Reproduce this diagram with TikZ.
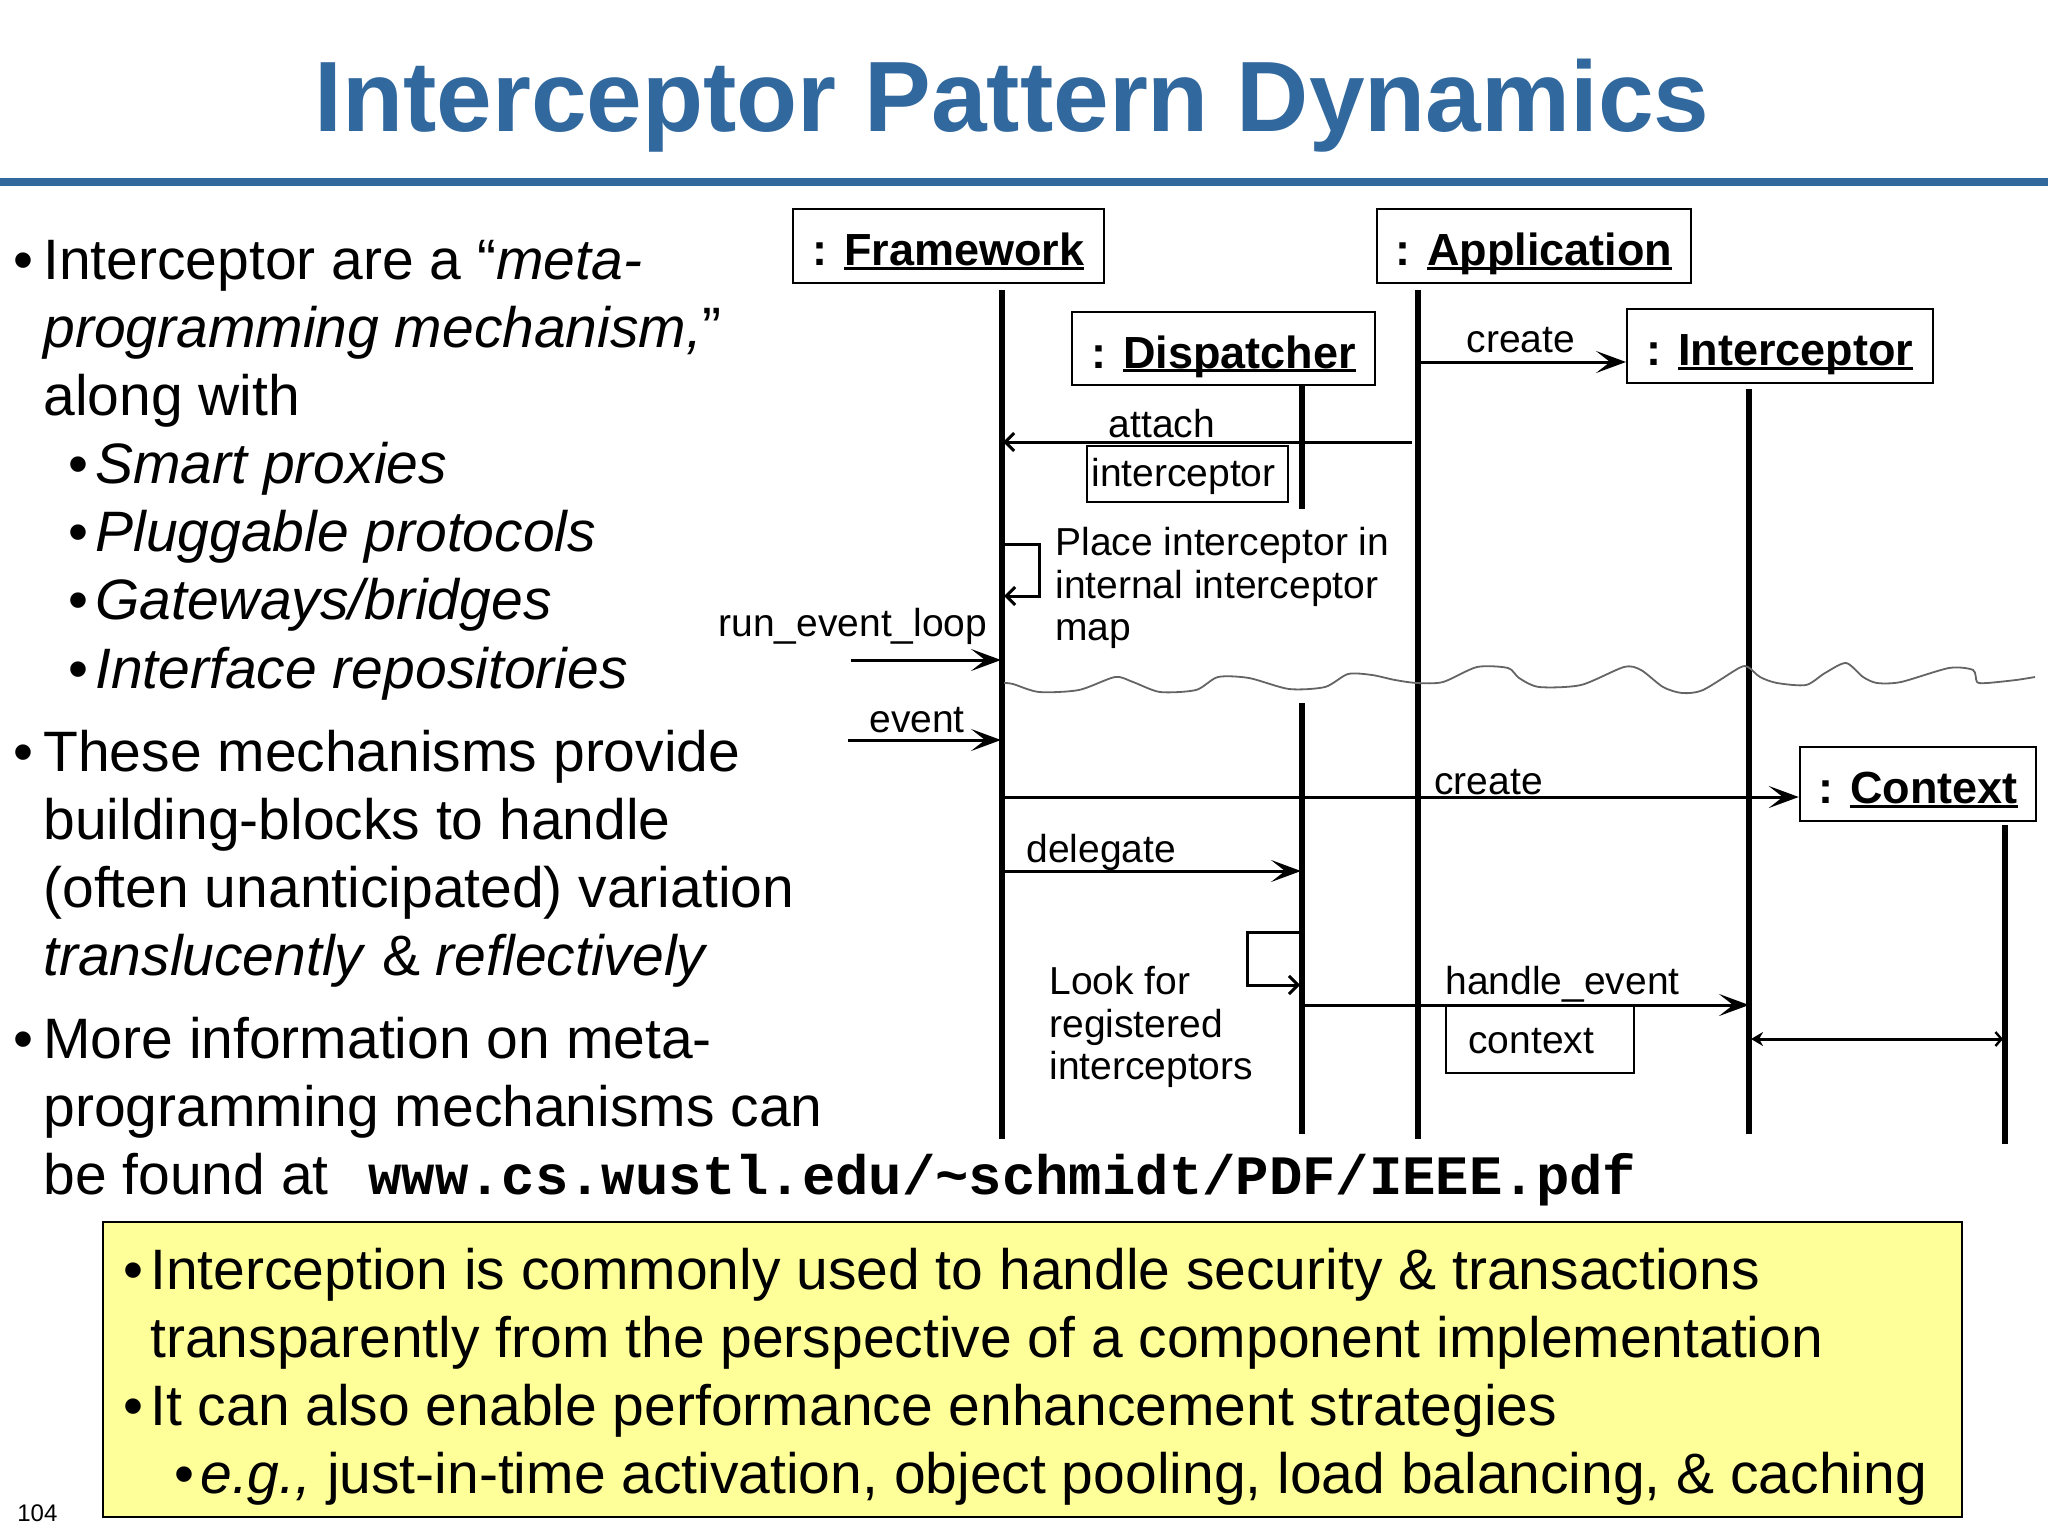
\documentclass[tikz,border=0pt]{standalone}
\usepackage{fontspec}
\setmainfont{Liberation Sans}
\newfontfamily\urlfont{Liberation Mono}
\usetikzlibrary{arrows.meta}
\definecolor{titleblue}{RGB}{49,104,158}
\definecolor{noteyellow}{RGB}{255,255,153}
\definecolor{wavegray}{RGB}{100,100,100}
\newcommand{\objname}[1]{\setbox0\hbox{#1}\rlap{\rule[-2pt]{\wd0}{1.5pt}}\box0}
\tikzset{
  obj/.style={draw, line width=1.25pt, inner sep=0pt, text height=19.5pt, text depth=0pt, font=\fontsize{22.5}{27}\selectfont\bfseries},
  lifeline/.style={line width=2.8pt},
  msg/.style={line width=1.5pt, -{Stealth[length=15pt,width=11pt,inset=7pt]}},
  smsg/.style={line width=1.5pt, -{Straight Barb[length=4.5pt,width=9pt,line width=1.5pt]}},
  lbl/.style={font=\fontsize{19.5}{21.5}\selectfont, inner sep=0pt, anchor=base west},
  lblbox/.style={draw, line width=1pt, inner sep=0pt},
  body/.style={font=\fontsize{28.5}{34}\selectfont, anchor=base west, inner sep=0pt},
  bul/.style={font=\fontsize{28.5}{34}\selectfont, anchor=base west, inner sep=0pt},
}
\begin{document}
\begin{tikzpicture}[x=0.5pt, y=-0.5pt]
\useasboundingbox (0,0) rectangle (2048,1536);

% title and rule
\node[font=\fontsize{50}{60}\selectfont\bfseries, text=titleblue, anchor=base, inner sep=0pt] (title) at (1012,132) {Interceptor Pattern Dynamics};
\coordinate (ruleL) at (0,182);
\coordinate (ruleR) at (2048,182);
\draw[titleblue, line width=4pt] (ruleL) -- (ruleR);

% left text
\node[bul] (b1) at (13,279) {•};
\node[body] (t1) at (43,279) {Interceptor are a “\textit{meta-}};
\node[body] (t2) at (43,347) {\textit{programming mechanism,}”};
\node[body] (t3) at (43,415) {along with};
\node[bul] (b4) at (68,483) {•};
\node[body] (t4) at (95,483) {\textit{Smart proxies}};
\node[bul] (b5) at (68,551) {•};
\node[body] (t5) at (95,551) {\textit{Pluggable protocols}};
\node[bul] (b6) at (68,619) {•};
\node[body] (t6) at (95,619) {\textit{Gateways/bridges}};
\node[bul] (b7) at (68,688) {•};
\node[body] (t7) at (95,688) {\textit{Interface repositories}};
\node[bul] (b8) at (13,771) {•};
\node[body] (t8) at (43,771) {These mechanisms provide};
\node[body] (t9) at (43,839) {building-blocks to handle};
\node[body] (t10) at (43,907) {(often unanticipated) variation};
\node[body] (t11) at (43,975) {\textit{translucently} \& \textit{reflectively}};
\node[bul] (b12) at (13,1058) {•};
\node[body] (t12) at (43,1058) {More information on meta-};
\node[body] (t13) at (43,1126) {programming mechanisms can};
\node[body] (t14) at (43,1194) {be found at};
\node[anchor=base west, inner sep=0pt, font=\fontsize{27.8}{33}\selectfont\urlfont\bfseries] (url) at (368,1194) {www.cs.wustl.edu/\textasciitilde schmidt/PDF/IEEE.pdf};

% object boxes
\node[obj, minimum width=155.5pt, minimum height=37pt] (fw) at (948.5,246) {: \objname{Framework}};
\node[obj, minimum width=157pt, minimum height=37pt] (app) at (1534,246) {: \objname{Application}};
\node[obj, minimum width=151.5pt, minimum height=36.5pt] (disp) at (1223.5,348.5) {: \objname{Dispatcher}};
\node[obj, minimum width=153pt, minimum height=37pt] (icp) at (1780,346) {: \objname{Interceptor}};
\node[obj, minimum width=118pt, minimum height=37pt] (ctx) at (1918,784) {: \objname{Context}};

% lifeline coordinates
\coordinate (fwT) at (1002,290);  \coordinate (fwB) at (1002,1139);
\coordinate (dT1) at (1302,385);  \coordinate (dB1) at (1302,509);
\coordinate (dT2) at (1302,703);  \coordinate (dB2) at (1302,1134);
\coordinate (apT) at (1418,290);  \coordinate (apB) at (1418,1139);
\coordinate (icT) at (1749,389);  \coordinate (icB) at (1749,1134);
\coordinate (cxT) at (2005,825);  \coordinate (cxB) at (2005,1144);
\draw[lifeline] (fwT) -- (fwB);
\draw[lifeline] (dT1) -- (dB1);
\draw[lifeline] (dT2) -- (dB2);
\draw[lifeline] (apT) -- (apB);
\draw[lifeline] (icT) -- (icB);
\draw[lifeline] (cxT) -- (cxB);

% create interceptor
\coordinate (c1s) at (1418,362);
\coordinate (c1e) at (1626,362);
\draw[msg] (c1s) -- (c1e);
\node[lbl, anchor=base] (c1l) at (1521,352) {create};

% attach interceptor
\coordinate (ats) at (1412,442);
\coordinate (ate) at (1003,442);
\draw[smsg] (ats) -- (ate);
\node[lbl, anchor=base] (atl) at (1162,437) {attach};
\node[lblbox, minimum width=100.5pt, minimum height=28pt] (atb) at (1187.5,474) {};
\node[lbl] (atbt) at (1091,486) {interceptor};

% self message: place interceptor
\coordinate (p1) at (1004,544);
\coordinate (p2) at (1039,544);
\coordinate (p3) at (1039,596);
\coordinate (p4) at (1004,596);
\draw[smsg] (p1) -- (p2) -- (p3) -- (p4);
\node[lbl] (pl1) at (1055,555) {Place interceptor in};
\node[lbl] (pl2) at (1055,598) {internal interceptor};
\node[lbl] (pl3) at (1055,640) {map};

% run_event_loop
\coordinate (rs) at (851,660);
\coordinate (re) at (1001,660);
\draw[msg] (rs) -- (re);
\node[lbl] (rl) at (718,636) {run\_event\_loop};

% wavy break line
\draw[wavegray, line width=0.9pt] plot[smooth, tension=0.45] coordinates {
(1004,683) (1013,684) (1039,692) (1079,690) (1115,677) (1133,682) (1160,692) (1196,690) (1218,677) (1249,678) (1289,689) (1325,687) (1348,674) (1372,675) (1395,680) (1417,683) (1443,682) (1477,667) (1508,668) (1519,678) (1539,687) (1581,685) (1624,667) (1641,670) (1663,687) (1682,693) (1703,690) (1739,668) (1748,667) (1760,677) (1777,683) (1806,685) (1825,673) (1846,663) (1863,677) (1877,683) (1901,682) (1949,668) (1973,670) (1977,682) (1987,683) (2016,680) (2035,677)};

% event
\coordinate (es) at (848,740);
\coordinate (ee) at (1001,740);
\draw[msg] (es) -- (ee);
\node[lbl] (el) at (869,732) {event};

% create context
\coordinate (c2s) at (1002,797);
\draw[msg] (c2s) -- (ctx.west |- c2s);
\node[lbl] (c2l) at (1434,794) {create};

% delegate
\coordinate (ds) at (1002,871);
\coordinate (de) at (1301,871);
\draw[msg] (ds) -- (de);
\node[lbl] (dl) at (1026,862) {delegate};

% self message: look for registered interceptors
\coordinate (q1) at (1300,932);
\coordinate (q2) at (1247,932);
\coordinate (q3) at (1247,985);
\coordinate (q4) at (1300,985);
\draw[smsg] (q1) -- (q2) -- (q3) -- (q4);
\node[lbl] (ql1) at (1049,994) {Look for};
\node[lbl] (ql2) at (1049,1037) {registered};
\node[lbl] (ql3) at (1049,1079) {interceptors};

% handle_event
\coordinate (hs) at (1302,1005);
\coordinate (he) at (1749,1005);
\draw[msg] (hs) -- (he);
\node[lbl] (hl) at (1445,994) {handle\_event};
\node[lblbox, minimum width=94pt, minimum height=33.5pt] (hb) at (1540,1039.5) {};
\node[lbl] (hbt) at (1468,1053) {context};

% interceptor <-> context
\coordinate (xs) at (1751,1039);
\coordinate (xe) at (2003,1039);
\draw[line width=1.5pt, {Stealth[length=6pt,width=7pt]}-{Straight Barb[length=3pt,width=7pt,line width=1.2pt]}] (xs) -- (xe);

% yellow note
\node[draw, fill=noteyellow, line width=1.25pt, minimum width=929.5pt, minimum height=147.5pt, inner sep=0pt] (note) at (1032.5,1369.5) {};
\node[bul] (nb1) at (123,1289) {•};
\node[body] (n1) at (150,1289) {Interception is commonly used to handle security \& transactions};
\node[body] (n2) at (150,1357) {transparently from the perspective of a component implementation};
\node[bul] (nb3) at (123,1425) {•};
\node[body] (n3) at (150,1425) {It can also enable performance enhancement strategies};
\node[bul] (nb4) at (174,1493) {•};
\node[body] (n4) at (200,1493) {\textit{e.g.,} just-in-time activation, object pooling, load balancing, \& caching};

% page number
\node[anchor=base west, inner sep=0pt, font=\fontsize{12}{14}\selectfont] (pg) at (17,1521) {104};
\end{tikzpicture}
\end{document}
